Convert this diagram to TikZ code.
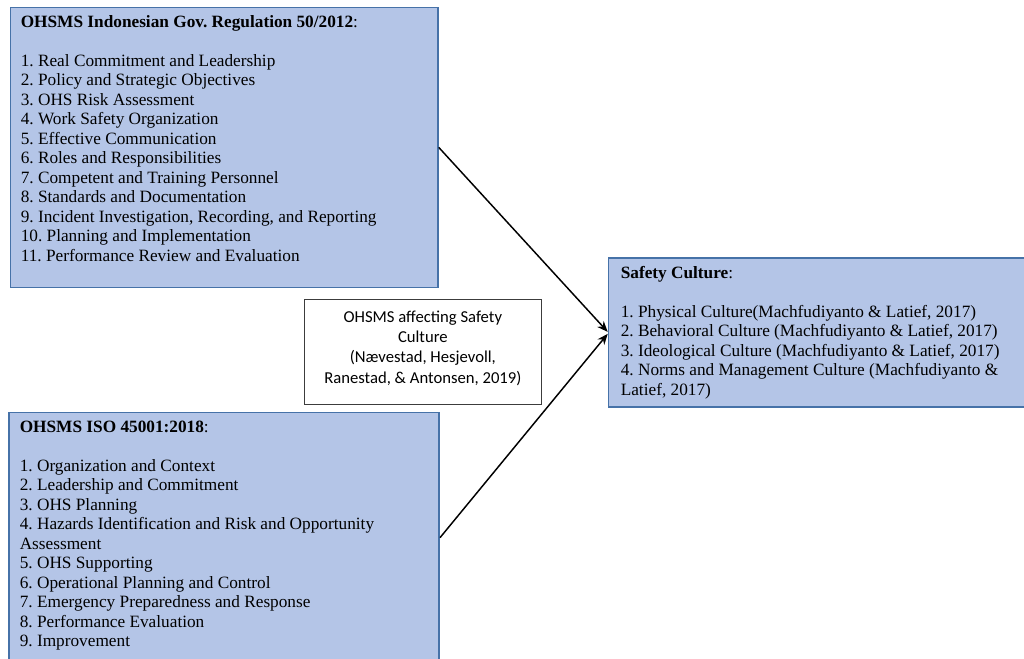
\documentclass[tikz,border=0pt]{standalone}
\usepackage{fontspec}
\setmainfont{Liberation Serif}
\newfontfamily\calibrifont{Carlito}
\usetikzlibrary{arrows.meta}
\definecolor{boxfill}{RGB}{180,197,231}
\definecolor{boxline}{RGB}{70,114,168}
\definecolor{midline}{RGB}{60,60,60}
\tikzset{
  bluebox/.style={draw=boxline, line width=1.3pt, fill=boxfill, rectangle, inner sep=0pt, anchor=north west},
  midbox/.style={draw=midline, line width=0.9pt, fill=white, rectangle, inner sep=0pt, anchor=north west,
    align=center, font=\calibrifont\fontsize{12.5}{15.3}\selectfont},
  boxtext/.style={anchor=north west, inner sep=0pt, align=left, font=\fontsize{12.95}{14.6}\selectfont},
  conn/.style={line width=1.1pt, -{Stealth[length=8pt,width=6.5pt,inset=2.5pt]}}
}
\begin{document}
\frenchspacing
\begin{tikzpicture}[x=0.75pt,y=-0.75pt]
\useasboundingbox (0,0) rectangle (1024,658);
\clip (0,0) rectangle (1024,658);
% boxes
\node[bluebox, minimum width={427.5*0.75pt}, minimum height={280*0.75pt}] (top) at (9.5,6.5) {};
\node[bluebox, minimum width={430*0.75pt}, minimum height={250.5*0.75pt}] (bottom) at (8.3,411.5) {};
\node[bluebox, minimum width={422.3*0.75pt}, minimum height={148.7*0.75pt}] (right) at (607.7,257.3) {};
\node[midbox, minimum width={237.5*0.75pt}, minimum height={105.5*0.75pt}] (mid) at (303.5,298.5)
  {OHSMS affecting Safety\\Culture\\(Nævestad, Hesjevoll,\\Ranestad, \& Antonsen, 2019)\rule[-7.5pt]{0pt}{0pt}};
% texts
\node[boxtext] (toptext) at (20.5,13.5) {\strut\textbf{OHSMS Indonesian Gov. Regulation 50/2012}:\\[14.6pt]
1. Real Commitment and Leadership\\
2. Policy and Strategic Objectives\\
3. OHS Risk Assessment\\
4. Work Safety Organization\\
5. Effective Communication\\
6. Roles and Responsibilities\\
7. Competent and Training Personnel\\
8. Standards and Documentation\\
9. Incident Investigation, Recording, and Reporting\\
10. Planning and Implementation\\
11. Performance Review and Evaluation};
\node[boxtext] (bottomtext) at (19.5,418.5) {\strut\textbf{OHSMS ISO 45001:2018}:\\[14.6pt]
1. Organization and Context\\
2. Leadership and Commitment\\
3. OHS Planning\\
4. Hazards Identification and Risk and Opportunity\\
Assessment\\
5. OHS Supporting\\
6. Operational Planning and Control\\
7. Emergency Preparedness and Response\\
8. Performance Evaluation\\
9. Improvement};
\node[boxtext] (righttext) at (620.5,264.5) {\strut\textbf{Safety Culture}:\\[14.6pt]
1. Physical Culture(Machfudiyanto \& Latief, 2017)\\
2. Behavioral Culture (Machfudiyanto \& Latief, 2017)\\
3. Ideological Culture (Machfudiyanto \& Latief, 2017)\\
4. Norms and Management Culture (Machfudiyanto \&\\
Latief, 2017)};
% connectors
\draw[conn] (top.east) -- ([yshift=0.5pt]right.west);
\draw[conn] (bottom.east) -- ([yshift=-1pt]right.west);
\end{tikzpicture}
\end{document}
